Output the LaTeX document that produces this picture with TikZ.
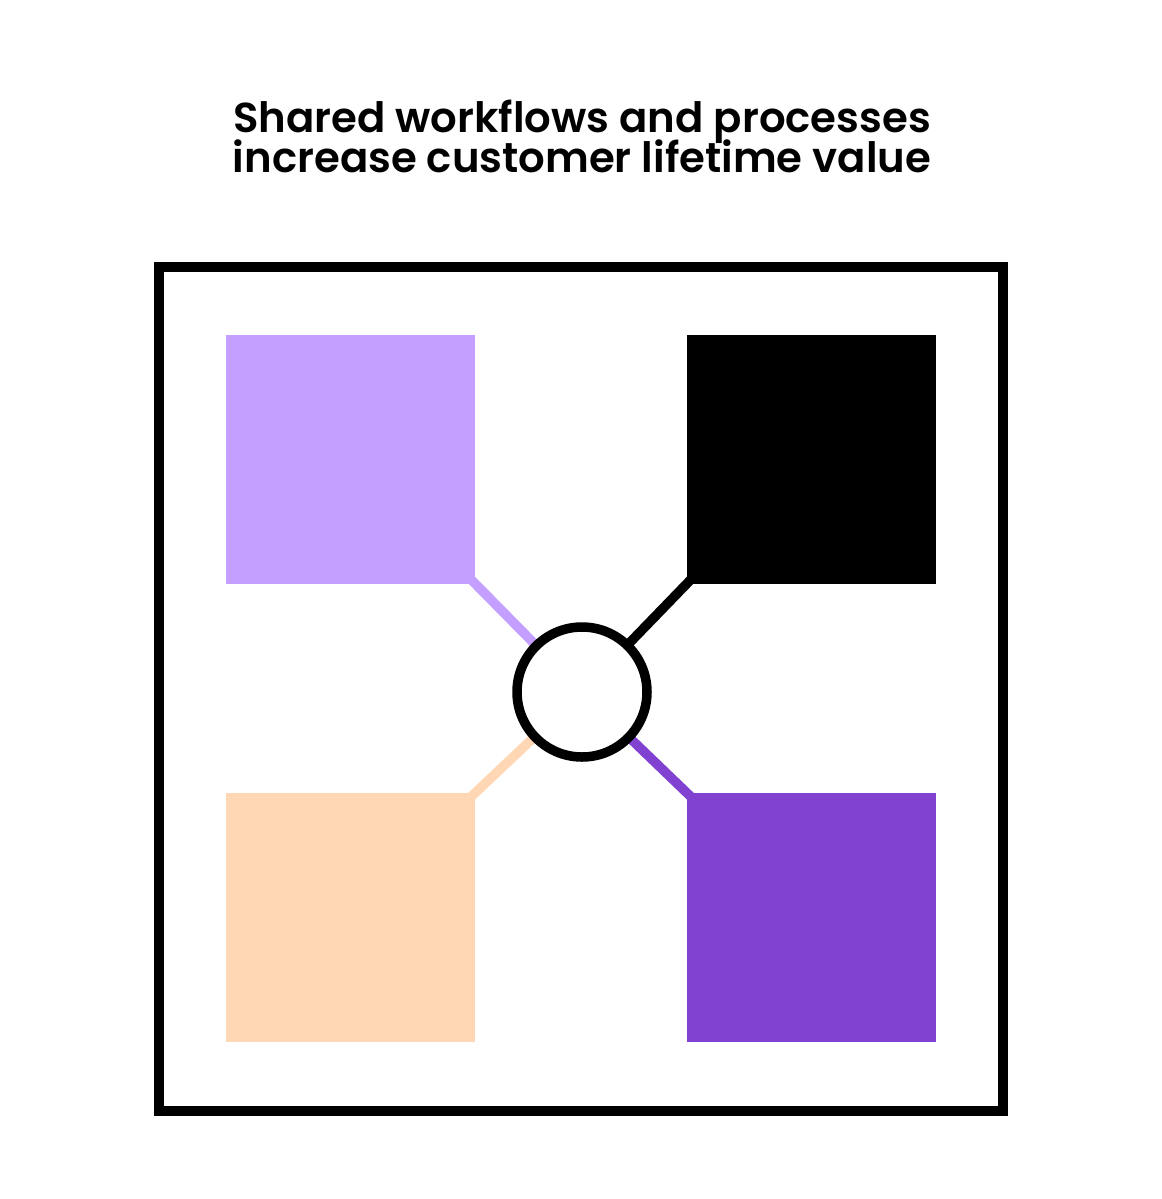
\documentclass[tikz,border=0pt]{standalone}
\usepackage{fontspec}
\setmainfont{Poppins}[UprightFont=* SemiBold]
\usetikzlibrary{backgrounds}
\pgfdeclarelayer{links}
\pgfsetlayers{background,links,main}
\definecolor{lav}{RGB}{196,159,255}
\definecolor{peach}{RGB}{255,215,181}
\definecolor{purp}{RGB}{129,66,210}
\tikzset{
  tile/.style={minimum width=249bp, minimum height=249bp, inner sep=0pt, outer sep=0pt, draw=none},
  link/.style={line width=9.5bp, shorten <=-8bp},
  titletext/.style={anchor=base, inner sep=0pt, font=\fontsize{41.8bp}{40bp}\selectfont}
}
\begin{document}
\begin{tikzpicture}[x=1bp, y=-1bp]
\begin{pgfonlayer}{background}
\fill[white] (0,0) rectangle (1162,1199);
\end{pgfonlayer}
\useasboundingbox (0,0) rectangle (1162,1199);
\node[titletext] (t1) at (582,132.5) {Shared workflows and processes};
\node[titletext] (t2) at (582,172.5) {increase customer lifetime value};
\node[draw, line width=10bp, minimum width=844bp, minimum height=844bp, inner sep=0pt] (frame) at (581,689) {};
\node[tile, fill=lav] (tl) at (350.5,459) {};
\node[tile, fill=black] (tr) at (811.5,459) {};
\node[tile, fill=peach] (bl) at (350.5,917.5) {};
\node[tile, fill=purp] (br) at (811.5,917.5) {};
\node[circle, draw, fill=white, line width=9.5bp, minimum size=130bp, inner sep=0pt] (hub) at (582,692) {};
\begin{pgfonlayer}{links}
\draw[link, lav] (tl.south east) -- (hub.center);
\draw[link, black] (tr.south west) -- (hub.center);
\draw[link, peach] (bl.north east) -- (hub.center);
\draw[link, purp] (br.north west) -- (hub.center);
\end{pgfonlayer}
\end{tikzpicture}
\end{document}
